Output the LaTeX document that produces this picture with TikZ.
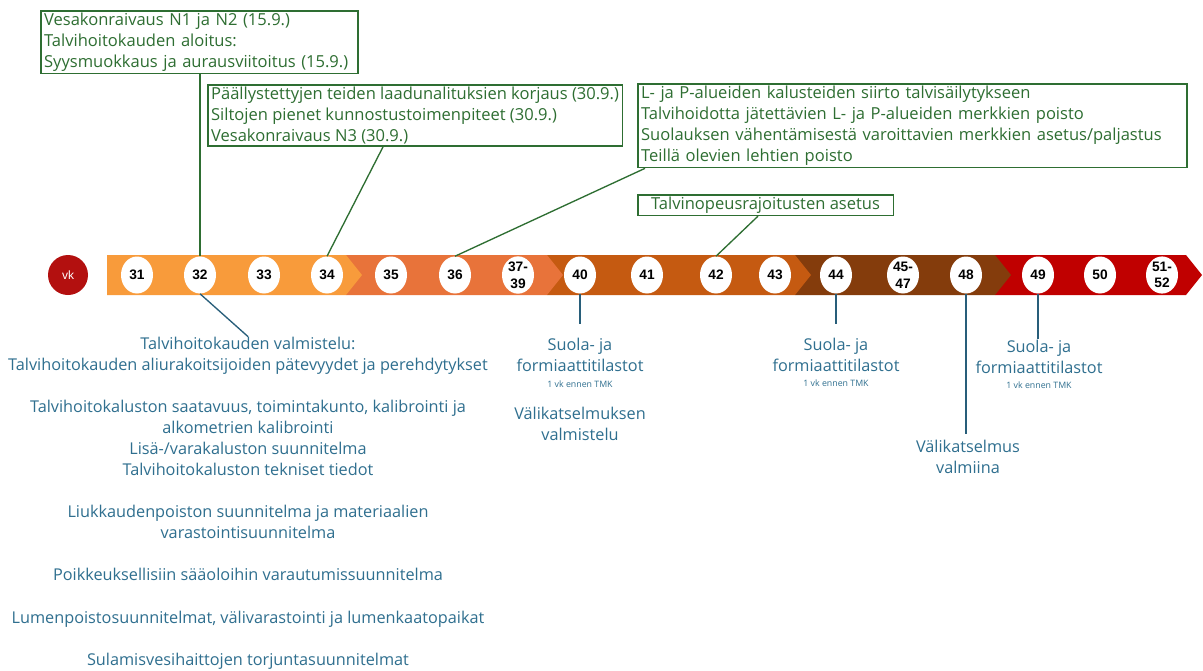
\documentclass[tikz,border=0pt]{standalone}
\usepackage{fontspec}
\setmainfont{Open Sans}
\newfontfamily\wkfont{Liberation Sans}
\usepackage{tikz}
\usetikzlibrary{calc,shapes.geometric}
\definecolor{boxgreenc}{HTML}{2E6E32}
\definecolor{notebluec}{HTML}{2F6F8F}
\definecolor{wklight}{HTML}{F89B3B}
\definecolor{wkorange}{HTML}{E8733A}
\definecolor{wkdark}{HTML}{C55A11}
\definecolor{wkbrown}{HTML}{843C0C}
\definecolor{wkred}{HTML}{C00000}
\definecolor{vkred}{HTML}{B3100F}
\colorlet{boxgreen}{boxgreenc}
\colorlet{noteblue}{notebluec}
\tikzstyle{taskbox} = [
    draw=boxgreen,
    line width=1.2pt,
    text=boxgreen,
    align=left,
    anchor=north west,
    inner xsep=2.5pt,
    inner ysep=1.5pt,
    font=\fontsize{12.4}{15.8}\selectfont
    ]
\tikzstyle{week} = [
    ellipse,
    fill=white,
    minimum width=24pt,
    minimum height=27.75pt,
    inner sep=0pt,
    align=center,
    font=\wkfont\bfseries\fontsize{10.3}{12.5}\selectfont
    ]
\tikzstyle{note} = [
    text=noteblue,
    align=center,
    inner sep=0pt,
    font=\fontsize{12.2}{15.8}\selectfont
    ]
\tikzstyle{smallnote} = [
    text=noteblue,
    inner sep=0pt,
    font=\fontsize{6.6}{7}\selectfont
    ]
\tikzstyle{greenlink} = [draw=boxgreen, line width=1pt]
\tikzstyle{bluelink} = [draw=noteblue!85!black, line width=1pt]

\begin{document}
\begin{tikzpicture}[x=0.75pt, y=-0.75pt]
\useasboundingbox (0,0) rectangle (1203,671);
\fill[white] (0,0) rectangle (1203,671);
% band, right to left so each chevron lies on the next colour
\foreach \a/\b/\c in {995/1186/wkred, 795/995/wkbrown, 547/795/wkdark, 346/547/wkorange, 107/346/wklight}
    \fill[\c] (\a,255) -- (\b,255) -- (\b+16,275) -- (\b,295) -- (\a,295) -- cycle;
\node[circle, fill=vkred, minimum size=30pt, inner sep=0pt, text=white,
    font=\wkfont\fontsize{9}{10}\selectfont] (vk) at (68,275) {vk};
\foreach \x/\name/\wk in {137/w31/31, 200/w32/32, 264/w33/33, 327/w34/34,
    391/w35/35, 455/w36/36, 518/w37/{37-\\39}, 580/w40/40, 647/w41/41,
    716/w42/42, 775/w43/43, 836/w44/44, 903/w45/{45-\\47}, 966/w48/48,
    1038/w49/49, 1100/w50/50, 1162/w51/{51-\\52}}
    \node[week] (\name) at (\x,275) {\wk};

% tasks above the band
\node[taskbox, text width=233pt] (syys) at (40,10) {Vesakonraivaus N1 ja N2 (15.9.)\\
    Talvihoitokauden aloitus:\\
    Syysmuokkaus ja aurausviitoitus (15.9.)};
\node[taskbox] (paall) at (207,84) {Päällystettyjen teiden laadunalituksien korjaus (30.9.)\\
    Siltojen pienet kunnostustoimenpiteet (30.9.)\\
    Vesakonraivaus N3 (30.9.)};
\node[taskbox, text width=407pt] (kalust) at (637,83) {L- ja P-alueiden kalusteiden siirto talvisäilytykseen\\
    Talvihoidotta jätettävien L- ja P-alueiden merkkien poisto\\
    Suolauksen vähentämisestä varoittavien merkkien asetus/paljastus\\
    Teillä olevien lehtien poisto};
\node[taskbox, inner xsep=10pt] (nopeus) at (637,194) {Talvinopeusrajoitusten asetus};

\draw[greenlink] (syys.south -| w32.north) -- (w32.north);
\draw[greenlink] ($(paall.south west)+(176,0)$) -- (w34.north);
\draw[greenlink] ($(kalust.south west)+(8,0)$) -- (w36.north);
\draw[greenlink] ($(nopeus.south west)+(121,0)$) -- (w42.north);

% notes below the band
\node[note] (prep) at (248,503) {Talvihoitokauden valmistelu:\\
    Talvihoitokauden aliurakoitsijoiden pätevyydet ja perehdytykset\\[15.8pt]
    Talvihoitokaluston saatavuus, toimintakunto, kalibrointi ja\\
    alkometrien kalibrointi\\
    Lisä-/varakaluston suunnitelma\\
    Talvihoitokaluston tekniset tiedot\\[15.8pt]
    Liukkaudenpoiston suunnitelma ja materiaalien\\
    varastointisuunnitelma\\[15.8pt]
    Poikkeuksellisiin sääoloihin varautumissuunnitelma\\[15.8pt]
    Lumenpoistosuunnitelmat, välivarastointi ja lumenkaatopaikat\\[15.8pt]
    Sulamisvesihaittojen torjuntasuunnitelmat};
\node[note] (salt40) at (580,354.5) {Suola- ja\\formiaattitilastot};
\node[smallnote] (tmk40) at (580,384) {1 vk ennen TMK};
\node[note] (rev40) at (580,423.5) {Välikatselmuksen\\valmistelu};
\node[note] (salt44) at (836,354.5) {Suola- ja\\formiaattitilastot};
\node[smallnote] (tmk44) at (836,383) {1 vk ennen TMK};
\node[note] (rev48) at (968,456.5) {Välikatselmus\\valmiina};
\node[note] (salt49) at (1039,356.5) {Suola- ja\\formiaattitilastot};
\node[smallnote] (tmk49) at (1039,385) {1 vk ennen TMK};

\draw[bluelink] (w32.south) -- (prep.north);
\draw[bluelink, shorten >=10pt] (w40.south) -- (w40.south |- salt40.north);
\draw[bluelink, shorten >=10pt] (w44.south) -- (w44.south |- salt44.north);
\draw[bluelink, shorten >=4pt] (w48.south) -- (w48.south |- rev48.north);
\draw[bluelink] (w49.south) -- (w49.south |- salt49.north);
\end{tikzpicture}
\end{document}
